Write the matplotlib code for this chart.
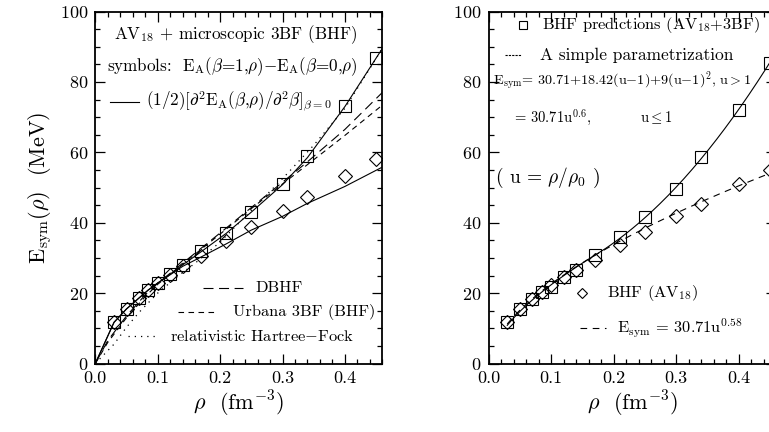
import numpy as np
import matplotlib.pyplot as plt
from matplotlib.ticker import MultipleLocator, FormatStrFormatter

plt.rcParams['font.family'] = ['cmr10', 'DejaVu Serif']
plt.rcParams['mathtext.fontset'] = 'cm'
plt.rcParams['axes.unicode_minus'] = False
plt.rcParams['axes.formatter.use_mathtext'] = True

# densities (fm^-3) of the BHF calculations
rho = [0.03, 0.05, 0.07, 0.085, 0.10, 0.12, 0.14, 0.17, 0.21, 0.25, 0.30, 0.34, 0.40, 0.45]

# left panel: AV18 + microscopic 3BF
esym_diff = [11.7, 15.5, 18.6, 20.9, 22.8, 25.3, 27.9, 32.0, 37.2, 43.1, 51.0, 59.0, 73.2, 86.7]
esym_curv = [11.7, 15.5, 18.6, 20.9, 22.9, 25.2, 27.8, 30.5, 34.8, 38.7, 43.4, 47.2, 53.3, 58.1]
fit_rho = [0.0, 0.03, 0.05, 0.07, 0.085, 0.10, 0.12, 0.14, 0.17, 0.21, 0.25, 0.30, 0.34, 0.40, 0.46]
fit_diff = [0.0, 11.7, 15.5, 18.6, 20.9, 22.8, 25.4, 28.0, 31.8, 37.0, 43.0, 50.8, 58.5, 73.0, 89.5]
fit_curv = [0.0, 11.7, 15.5, 18.6, 20.9, 22.9, 25.2, 27.6, 30.3, 34.0, 37.9, 41.8, 45.5, 50.3, 55.8]

# other calculations
cmp_rho = [0.0, 0.02, 0.05, 0.08, 0.10, 0.14, 0.17, 0.21, 0.25, 0.30, 0.34, 0.40, 0.46]
dbhf = [0.0, 6.5, 13.5, 19.5, 22.8, 28.5, 32.8, 38.5, 44.3, 51.5, 57.3, 66.5, 77.0]
urbana = [0.0, 6.0, 13.0, 19.0, 22.5, 28.2, 32.5, 38.2, 44.0, 51.0, 56.5, 64.8, 73.4]
rhf_rho = [0.0, 0.03, 0.05, 0.07, 0.10, 0.13, 0.16, 0.20, 0.25, 0.30, 0.35, 0.40, 0.46]
rhf = [0.0, 5.5, 10.3, 14.5, 20.0, 24.5, 28.5, 34.5, 43.5, 52.5, 62.0, 72.5, 89.5]

# right panel: BHF with and without 3BF
bhf_3bf = [11.7, 15.6, 18.2, 20.3, 21.8, 24.6, 26.6, 30.8, 36.0, 41.7, 49.5, 58.6, 72.0, 85.3]
bhf_av18 = [11.7, 15.6, 18.2, 20.3, 22.3, 24.6, 26.6, 29.4, 33.7, 37.4, 41.9, 45.3, 51.0, 55.0]

# parametrization of E_sym, u = rho/rho0
rho0 = 0.17
e0, l1, k2 = 30.71, 18.42, 9.0
gamma_3bf = 0.6
gamma_av18 = 0.58

fig = plt.figure(figsize=(7.69, 4.32), dpi=100)
ax1 = fig.add_axes([95.3 / 769, 68.5 / 432, 0.46 * 624 / 769, 352 / 432])
ax2 = fig.add_axes([488.5 / 769, 68.5 / 432, 0.46 * 625 / 769, 352 / 432])

for ax in (ax1, ax2):
    ax.set_xlim(0, 0.46)
    ax.set_ylim(0, 100)
    ax.xaxis.set_major_locator(MultipleLocator(0.1))
    ax.xaxis.set_minor_locator(MultipleLocator(0.02))
    ax.yaxis.set_major_locator(MultipleLocator(20))
    ax.yaxis.set_minor_locator(MultipleLocator(5))
    ax.xaxis.set_major_formatter(FormatStrFormatter('%.1f'))
    ax.tick_params(which='both', direction='in', top=True, right=True, labelsize=13, width=0.9)
    ax.tick_params(which='major', length=7, pad=5)
    ax.tick_params(which='minor', length=3.5)
    for s in ax.spines.values():
        s.set_linewidth(1.3)
    ax.set_xlabel(r'$\rho$  (fm$^{-3}$)', fontsize=16, labelpad=2)

ax1.set_ylabel(r'E$_{\rm sym}$($\rho$)  (MeV)', fontsize=16, labelpad=4)

mk = dict(mfc='none', mec='k', mew=0.8, ls='none')

# left panel
ax1.plot(fit_rho, fit_diff, 'k-', lw=0.8)
ax1.plot(fit_rho, fit_curv, 'k-', lw=0.8)
ax1.plot(rho, esym_diff, marker='s', ms=8, **mk)
ax1.plot(rho, esym_curv, marker='D', ms=7, **mk)
ax1.plot(cmp_rho, dbhf, 'k', lw=0.8, dashes=(9, 5))
ax1.plot(cmp_rho, urbana, 'k', lw=0.8, dashes=(5, 4))
ax1.plot(rhf_rho, rhf, 'k', lw=0.9, ls=(0, (1, 4)))

ft = 12.3
fb = 11.8
ax1.text(0.224, 93.3, r'AV$_{18}$ + microscopic 3BF (BHF)', fontsize=ft, ha='center', va='center')
ax1.text(0.018, 84.2, r'symbols:  E$_{\rm A}$($\beta$=1,$\rho$)$-$E$_{\rm A}$($\beta$=0,$\rho$)',
         fontsize=ft, ha='left', va='center')
ax1.plot([0.024, 0.070], [74.3, 74.3], 'k-', lw=0.8)
ax1.text(0.082, 74.3, r'(1/2)[$\partial^2$E$_{\rm A}$($\beta$,$\rho$)/$\partial^2\beta$]$_{\beta=0}$',
         fontsize=ft, ha='left', va='center')

ax1.plot([0.173, 0.237], [21.4, 21.4], 'k', lw=0.8, dashes=(9, 5))
ax1.text(0.256, 21.4, 'DBHF', fontsize=fb, ha='left', va='center')
ax1.plot([0.133, 0.197], [14.6, 14.6], 'k', lw=0.8, dashes=(5, 4))
ax1.text(0.220, 14.6, 'Urbana 3BF (BHF)', fontsize=fb, ha='left', va='center')
ax1.plot([0.052, 0.102], [7.8, 7.8], 'k', lw=0.9, ls=(0, (1, 4)))
ax1.text(0.120, 7.8, 'relativistic Hartree$-$Fock', fontsize=fb, ha='left', va='center')

# right panel
u = np.linspace(rho[0], 0.46, 200) / rho0
param = np.where(u > 1, e0 + l1 * (u - 1) + k2 * (u - 1) ** 2, e0 * u ** gamma_3bf)
soft = e0 * u ** gamma_av18
ax2.plot(u * rho0, param, 'k-', lw=0.8)
ax2.plot(u * rho0, soft, 'k', lw=0.8, dashes=(6, 5))
ax2.plot(rho, bhf_3bf, marker='s', ms=8, **mk)
ax2.plot(rho, bhf_av18, marker='D', ms=7, **mk)

ax2.plot([0.055], [96.2], marker='s', ms=6, **mk)
ax2.text(0.085, 96.2, r'BHF predictions (AV$_{18}$+3BF)', fontsize=11.8, ha='left', va='center')
ax2.plot([0.027, 0.052], [87.6, 87.6], 'k', lw=0.8, dashes=(2, 1))
ax2.text(0.083, 87.6, 'A simple parametrization', fontsize=12.5, ha='left', va='center')
ax2.text(0.007, 80.3,
         r'E$_{\rm sym}$= %.2f+%.2f(u$-$1)+%d(u$-$1)$^2$, u$>$1' % (e0, l1, k2),
         fontsize=10.2, ha='left', va='center')
ax2.text(0.04, 70.0, r'= %.2fu$^{%.1f}$,' % (e0, gamma_3bf), fontsize=10.5, ha='left', va='center')
ax2.text(0.242, 70.0, r'u$\leq$1', fontsize=10.5, ha='left', va='center')
ax2.text(0.010, 52.7, r'( u = $\rho/\rho_0$ )', fontsize=14, ha='left', va='center')

ax2.plot([0.150], [20.0], marker='D', ms=5.5, **mk)
ax2.text(0.19, 20.0, r'BHF (AV$_{18}$)', fontsize=fb, ha='left', va='center')
ax2.plot([0.146, 0.188], [10.0, 10.0], 'k', lw=0.8, dashes=(6, 5))
ax2.text(0.205, 10.0, r'E$_{\rm sym}$ = %.2fu$^{%.2f}$' % (e0, gamma_av18),
         fontsize=fb, ha='left', va='center')

fig.savefig('out.png', dpi=100)
